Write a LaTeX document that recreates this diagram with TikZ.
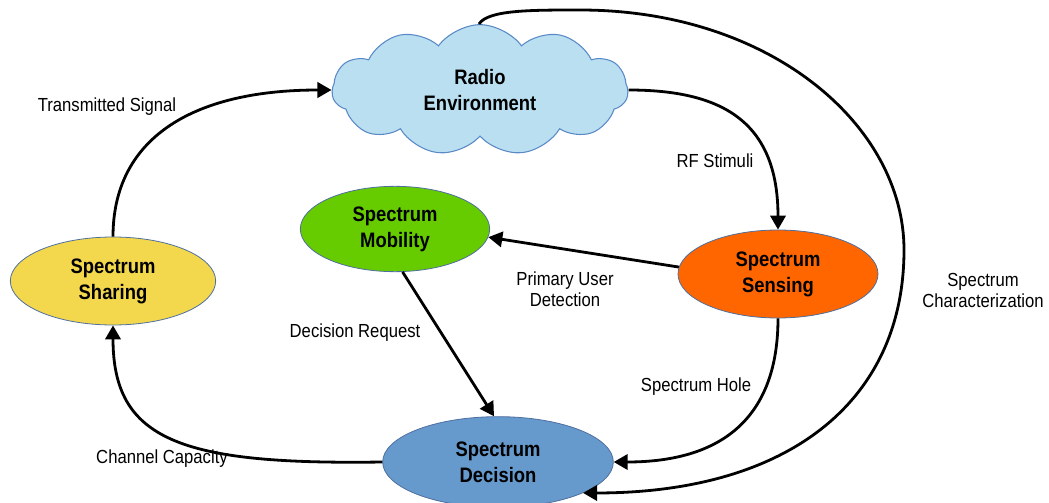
\documentclass[tikz,border=0pt]{standalone}
\usepackage{fontspec}
\setmainfont[FakeStretch=0.88]{Liberation Sans}
\usetikzlibrary{shapes.symbols,shapes.geometric,arrows.meta}
\definecolor{cloudfill}{HTML}{B9DFF1}
\definecolor{cloudline}{HTML}{5A8AC6}
\definecolor{shareyellow}{HTML}{F3D84D}
\definecolor{mobgreen}{HTML}{66CC00}
\definecolor{senseorange}{HTML}{FF6600}
\definecolor{decblue}{HTML}{6699CC}
\definecolor{rimline}{HTML}{4F6F9F}
\begin{document}
\begin{tikzpicture}[x=0.75pt,y=-0.75pt,
  stage/.style={ellipse, draw=rimline, line width=0.6pt, inner sep=0pt, align=center,
    font=\bfseries\fontsize{15.7}{19.5}\selectfont},
  flow/.style={line width=2.1pt, -{Triangle[length=10.5pt,width=11.5pt]}},
  lbl/.style={align=center, inner sep=0pt, font=\fontsize{14.2}{15.75}\selectfont}]
\useasboundingbox (0,0) rectangle (1049,503);

% cycle stages
\node[cloud, cloud puffs=11, cloud puff arc=108, aspect=2.3,
      minimum width=222pt, minimum height=98pt, inner sep=0pt,
      fill=cloudfill, draw=cloudline, line width=0.8pt, align=center,
      font=\bfseries\fontsize{15.7}{19.5}\selectfont] (env) at (480,90) {Radio\\Environment};
\node[stage, fill=shareyellow, minimum width=154pt, minimum height=66pt] (share) at (113,281) {Spectrum\\Sharing};
\node[stage, fill=mobgreen, minimum width=142pt, minimum height=64pt] (mob) at (395,229) {Spectrum\\Mobility};
\node[stage, fill=senseorange, minimum width=150pt, minimum height=66pt] (sense) at (778,274) {Spectrum\\Sensing};
\node[stage, fill=decblue, minimum width=173pt, minimum height=68pt] (dec) at (498,462) {Spectrum\\Decision};

\coordinate (charstart) at (479,24);

% transitions
\draw[flow] (share.north) .. controls (113,140) and (190,90) .. (env.west);
\draw[flow] (env.east) .. controls (720,90) and (778,120) .. (sense.north);
\draw[flow] (sense.176) -- (mob.-5);
\draw[flow] (mob.-80) -- (dec.95);
\draw[flow] (sense.south) .. controls (778,405) and (735,462) .. (dec.east);
\draw[flow] (dec.west) .. controls (180,465) and (113,440) .. (share.south);
\draw[flow] (charstart) .. controls (488,10) and (530,10) .. (580,10)
  .. controls (770,10) and (904,125) .. (904,250)
  .. controls (904,400) and (790,493) .. (dec.-20);

% transition labels
\node[lbl] (ltx) at (107,107) {Transmitted Signal};
\node[lbl] (lrf) at (715,161) {RF Stimuli};
\node[lbl] (lpu) at (565,289) {Primary User\\Detection};
\node[lbl] (ldr) at (355,333) {Decision Request};
\node[lbl] (lsh) at (696,387) {Spectrum Hole};
\node[lbl] (lcc) at (162,459) {Channel Capacity};
\node[lbl] (lsc) at (983,290) {Spectrum\\Characterization};
\end{tikzpicture}
\end{document}
